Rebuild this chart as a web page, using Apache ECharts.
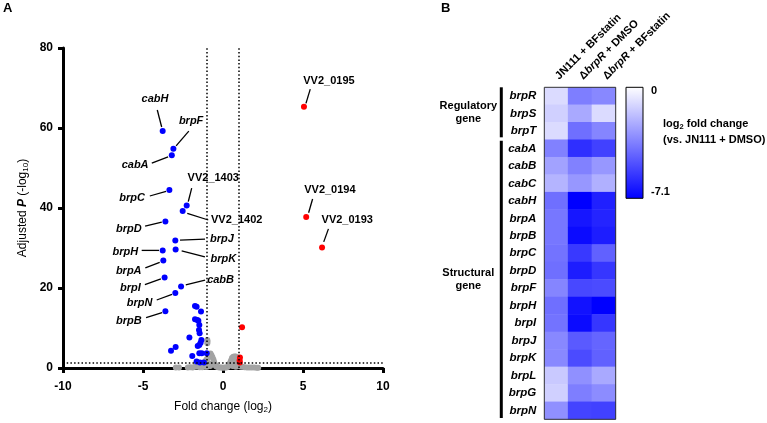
<!DOCTYPE html>
<html><head><meta charset="utf-8">
<script src="https://cdn.jsdelivr.net/npm/echarts/dist/echarts.min.js"></script>
<style>html,body{margin:0;padding:0;background:#fff}#c{width:767px;height:423px}</style>
</head><body><div id="c"></div>
<script>
// ---------- Panel A: volcano plot data ----------
const downGenes = ['cabH','brpF','cabA','brpC','VV2_1403','VV2_1402','brpD','brpJ','brpH','brpK','brpA','brpI','cabB','brpN','brpB'];
const downFC = [-3.77,-3.1,-3.2,-3.35,-2.27,-2.52,-3.6,-2.98,-3.77,-2.96,-3.73,-3.65,-2.62,-2.98,-3.6];
const downP  = [59.25,54.8,53.2,44.5,40.6,39.25,36.6,31.9,29.4,29.6,26.9,22.6,20.4,18.75,14.2];
const upGenes = ['VV2_0195','VV2_0194','VV2_0193'];
const upFC = [5.06,5.2,6.19];
const upP  = [65.3,37.75,30.1];
const otherDown = [[-1.75,15.5],[-1.65,15.3],[-1.375,14.1],[-1.75,12.2],[-1.54,11.8],[-1.48,10.75],[-1.5,9.5],[-1.46,8.7],[-2.1,7.6],[-1.35,7.0],[-1.48,5.75],[-1.58,5.5],[-2.96,5.25],[-3.25,4.3],[-1.33,3.7],[-1.48,3.7],[-1.02,3.7],[-1.92,3.0],[-1.65,1.6],[-1.44,1.4],[-1.19,1.4],[-1.4,6.3],[-1.6,12.0]];
const otherUp = [[1.19,10.2],[1.06,2.6],[1.04,1.9],[1.05,1.4]];
const notSig = [[-2.95,0.1],[-2.75,0.15],[-2.2,0.1],[-2.05,0.2],[-1.9,0.15],[-1.75,0.3],[-1.6,0.4],[-1.5,0.6],[-1.42,1.0],[-1.35,0.8],[-1.28,1.3],[-1.2,1.1],[-1.12,1.6],[-1.05,2.0],[-0.98,2.4],[-0.92,2.9],[-0.85,3.3],[-0.78,3.6],[-0.72,3.2],[-0.66,2.7],[-0.6,2.1],[-0.55,1.5],[-0.5,0.9],[-0.45,0.5],[-0.38,0.3],[-0.3,0.2],[-0.2,0.15],[-0.1,0.1],[0.0,0.05],[0.1,0.1],[0.2,0.15],[0.3,0.3],[0.38,0.7],[0.44,1.3],[0.5,1.9],[0.56,2.5],[0.64,2.8],[0.72,2.9],[0.8,2.9],[0.88,2.7],[0.95,2.3],[0.92,1.6],[0.85,1.0],[0.75,1.5],[0.65,1.2],[1.0,0.6],[1.1,0.4],[1.2,0.3],[1.35,0.2],[1.5,0.15],[1.65,0.1],[1.8,0.1],[1.95,0.1],[2.1,0.08],[2.2,0.05],[-0.98,6.2],[-0.97,6.6],[-0.98,7.0],[-1.45,0.2],[-1.0,0.3],[-0.8,0.5],[-0.7,1.0],[-0.9,1.2],[0.6,0.5],[0.8,0.3],[-1.3,0.2],[-1.1,0.3]];
const fcCutoffs = [-1, 1];
const pCutoff = 1.3;
const xTicks = [-10,-5,0,5,10];
const yTicks = [0,20,40,60,80];

// ---------- Panel B: heatmap data ----------
const heatRows = ['brpR','brpS','brpT','cabA','cabB','cabC','cabH','brpA','brpB','brpC','brpD','brpF','brpH','brpI','brpJ','brpK','brpL','brpG','brpN'];
const heatCols = ['JN111 + BFstatin','\u0394brpR + DMSO','\u0394brpR + BFstatin'];
const wtBFstatin  = [-1.0,-1.3,-1.0,-3.5,-2.6,-2.1,-4.0,-3.8,-3.8,-3.9,-4.0,-3.4,-4.0,-3.9,-3.3,-3.3,-1.5,-1.3,-3.1];
const mutDMSO     = [-3.6,-2.4,-4.0,-5.8,-3.5,-2.9,-7.1,-6.5,-6.8,-5.5,-6.3,-5.1,-6.6,-6.8,-4.6,-5.0,-3.1,-3.6,-5.2];
const mutBFstatin = [-3.3,-1.0,-3.4,-5.3,-2.9,-2.2,-6.2,-6.1,-6.3,-4.4,-5.6,-5.0,-7.1,-5.6,-4.3,-4.4,-2.4,-3.2,-5.3];
const groups = [{name:['Regulatory','gene'], from:0, to:2},{name:['Structural','gene'], from:3, to:18}];
const colorMin = -7.1, colorMax = 0;

// ---------- layout / style config ----------
const FF = '"Liberation Sans", Arial, Helvetica, sans-serif';
const BLUE = '#0000ff', RED = '#ff0000', GREY = '#a3a3a3';
// label text offset [dx,dy] and leader line [x1,y1,x2,y2], relative to point pixel
const labelLayout = {
  cabH:{t:[-7.7,-32.5], l:[-5.4,-21,-1,-4]},
  brpF:{t:[17.7,-27.7], l:[15.4,-17.7,2.7,-3]},
  cabA:{t:[-36.7,9.7], l:[-20,8,-3.7,1.7]},
  brpC:{t:[-37.3,8.3], l:[-19.6,6,-3.3,1.3]},
  VV2_1403:{t:[26.6,-28], l:[5,-17.4,1.6,-4]},
  VV2_1402:{t:[54,9], l:[4.6,2.3,25.6,9]},
  brpD:{t:[-36.6,7.3], l:[-20.3,4.6,-3.6,0.6]},
  brpJ:{t:[46.7,-1.3], l:[4.7,-0.3,29.7,-1.3]},
  brpH:{t:[-37.4,1.4], l:[-21,0,-3.7,0]},
  brpK:{t:[47.6,9.3], l:[6,1.3,29.3,7.3]},
  brpA:{t:[-34.6,10.4], l:[-18,7.4,-3.6,2]},
  brpI:{t:[-34.2,10], l:[-19.7,7,-3.7,1.3]},
  cabB:{t:[39.5,-6.3], l:[4.7,-1.6,24,-6.3]},
  brpN:{t:[-35.8,10.3], l:[-18.6,7,-3.3,1.3]},
  brpB:{t:[-36.6,9.4], l:[-19.3,6.4,-3.3,1.4]},
  VV2_0195:{t:[25,-25.7], l:[6.3,-17.7,2,-3.4]},
  VV2_0194:{t:[23.7,-27], l:[6.4,-18,2.4,-4.3]},
  VV2_0193:{t:[25.2,-27.4], l:[6.4,-18.7,1.7,-5.7]}
};

const labelNames = downGenes.concat(upGenes);
const labelData = downFC.map((x,i)=>[x, downP[i]]).concat(upFC.map((x,i)=>[x, upP[i]]));
const heatData = [];
[wtBFstatin, mutDMSO, mutBFstatin].forEach((arr, c) => arr.forEach((v, r) => heatData.push([c, r, v])));

const chart = echarts.init(document.getElementById('c'), null, {renderer:'canvas', width:767, height:423});

const axisBase = {
  axisLine:{show:true, onZero:false, lineStyle:{color:'#000', width:3}},
  axisTick:{show:true, inside:false, length:5, lineStyle:{color:'#000', width:3}},
  splitLine:{show:false},
  axisLabel:{color:'#000', fontSize:12, fontWeight:'bold', fontFamily:FF}
};
const colRich = {b:{fontSize:11, fontWeight:'bold', fill:'#000', color:'#000', fontFamily:FF}, bi:{fontSize:11, fontWeight:'bold', fontStyle:'italic', fill:'#000', color:'#000', fontFamily:FF}};
function colLabel(v){ return v.charAt(0)==='\u0394' ? '{b|\u0394}{bi|brpR}{b|'+v.slice(5)+'}' : '{b|'+v+'}'; }

chart.setOption({
  animation:false,
  backgroundColor:'#fff',
  textStyle:{fontFamily:FF},
  grid:[
    {left:63, top:48, width:320, height:320, outerBoundsMode:'none', containLabel:false},
    {left:544.3, top:87.3, width:71.4, height:332, outerBoundsMode:'none', containLabel:false}
  ],
  xAxis:[
    Object.assign({}, axisBase, {
      gridIndex:0, type:'value', min:xTicks[0], max:xTicks[xTicks.length-1], interval:5,
      axisLabel:Object.assign({}, axisBase.axisLabel, {margin:13}),
      name:'{n|Fold change (log}{s|2}{n|)}', nameLocation:'middle', nameGap:31,
      nameTextStyle:{rich:{n:{fontSize:12, color:'#000', fontFamily:FF}, s:{fontSize:8, color:'#000', fontFamily:FF, padding:[7,0,0,0]}}}
    }),
    {
      gridIndex:1, type:'category', position:'top', data:heatCols,
      axisLine:{show:false}, axisTick:{show:false}, splitLine:{show:false},
      axisLabel:{show:false}
    }
  ],
  yAxis:[
    Object.assign({}, axisBase, {
      gridIndex:0, type:'value', min:yTicks[0], max:yTicks[yTicks.length-1], interval:20,
      axisLabel:Object.assign({}, axisBase.axisLabel, {margin:10}),
      name:'{n|Adjusted }{i|P}{n| (-log}{s|10}{n|)}', nameLocation:'middle', nameGap:33, nameRotate:90,
      nameTextStyle:{rich:{n:{fontSize:12, color:'#000', fontFamily:FF}, i:{fontSize:12, color:'#000', fontStyle:'italic', fontWeight:'bold', fontFamily:FF}, s:{fontSize:8, color:'#000', fontFamily:FF, padding:[7,0,0,0]}}}
    }),
    {
      gridIndex:1, type:'category', inverse:true, data:heatRows,
      axisLine:{show:false}, axisTick:{show:false}, splitLine:{show:false},
      axisLabel:{interval:0, margin:8, color:'#000', fontSize:11.5, fontWeight:'bold', fontStyle:'italic', fontFamily:FF}
    }
  ],
  visualMap:{show:false, type:'continuous', seriesIndex:4, min:colorMin, max:colorMax, inRange:{color:[BLUE,'#ffffff']}},
  series:[
    {type:'scatter', xAxisIndex:0, yAxisIndex:0, data:notSig, symbolSize:6, itemStyle:{color:GREY, opacity:1}, silent:true, z:2,
     markLine:{silent:true, symbol:'none', label:{show:false}, animation:false,
       lineStyle:{color:'#000', type:[1.5,2.2], width:1.5},
       data:[{xAxis:fcCutoffs[0]},{xAxis:fcCutoffs[1]},{yAxis:pCutoff}]}},
    {type:'scatter', xAxisIndex:0, yAxisIndex:0, data:otherDown.concat(downFC.map((x,i)=>[x,downP[i]])), symbolSize:6, itemStyle:{color:BLUE, opacity:1}, silent:true, z:3},
    {type:'scatter', xAxisIndex:0, yAxisIndex:0, data:otherUp.concat(upFC.map((x,i)=>[x,upP[i]])), symbolSize:6, itemStyle:{color:RED, opacity:1}, silent:true, z:3},
    {type:'custom', xAxisIndex:0, yAxisIndex:0, data:labelData, clip:false, silent:true, z:4,
     renderItem:function(params, api){
       const name = labelNames[params.dataIndex];
       const p = api.coord([api.value(0), api.value(1)]);
       const L = labelLayout[name];
       const italic = name.indexOf('VV2')!==0;
       return {type:'group', children:[
         {type:'line', shape:{x1:p[0]+L.l[0], y1:p[1]+L.l[1], x2:p[0]+L.l[2], y2:p[1]+L.l[3]}, style:{stroke:'#000', lineWidth:1.3}},
         {type:'text', x:p[0]+L.t[0], y:p[1]+L.t[1], style:{text:name, fill:'#000', fontSize:11, fontWeight:'bold', fontStyle: italic?'italic':'normal', fontFamily:FF, align:'center', verticalAlign:'middle'}}
       ]};
     }},
    {type:'heatmap', xAxisIndex:1, yAxisIndex:1, data:heatData, silent:true, itemStyle:{borderWidth:0}, emphasis:{disabled:true}}
  ]
});

// ----- decorations computed from the heatmap axes -----
const c0 = chart.convertToPixel({gridIndex:1}, [0, 0]);
const c1 = chart.convertToPixel({gridIndex:1}, [heatCols.length-1, heatRows.length-1]);
const rowH = (c1[1]-c0[1])/(heatRows.length-1);
const colW = (c1[0]-c0[0])/(heatCols.length-1);
const hmTop = c0[1]-rowH/2, hmBottom = c1[1]+rowH/2, hmLeft = c0[0]-colW/2, hmRight = c1[0]+colW/2;
const bracketX = hmLeft - 43;
const groupTextX = hmLeft - 76;

const graphics = [
  {type:'text', left:3, top:2, style:{text:'A', fontSize:13, fontWeight:'bold', fill:'#000', fontFamily:FF}},
  {type:'text', left:441, top:2, style:{text:'B', fontSize:13, fontWeight:'bold', fill:'#000', fontFamily:FF}},
  {type:'rect', shape:{x:hmLeft, y:hmTop, width:hmRight-hmLeft, height:hmBottom-hmTop}, style:{fill:'none', stroke:'#333', lineWidth:1}, z:100},
  {type:'rect', shape:{x:626, y:hmTop, width:17, height:111}, z:100,
   style:{fill:new echarts.graphic.LinearGradient(0,0,0,1,[{offset:0,color:'#ffffff'},{offset:1,color:BLUE}]), stroke:'#000', lineWidth:1}},
  {type:'text', x:651, y:hmTop+4, style:{text:'0', fontSize:11, fontWeight:'bold', fill:'#000', fontFamily:FF, verticalAlign:'middle'}},
  {type:'text', x:651, y:hmTop+105, style:{text:'-7.1', fontSize:11, fontWeight:'bold', fill:'#000', fontFamily:FF, verticalAlign:'middle'}},
  {type:'text', x:663, y:hmTop+37, style:{text:'{n|log}{s|2}{n| fold change}', verticalAlign:'middle', fontFamily:FF,
    rich:{n:{fontSize:11, fontWeight:'bold', fill:'#000', fontFamily:FF}, s:{fontSize:7.5, fontWeight:'bold', fill:'#000', fontFamily:FF, padding:[6,0,0,0]}}}},
  {type:'text', x:663, y:hmTop+53, style:{text:'(vs. JN111 + DMSO)', fontSize:11, fontWeight:'bold', fill:'#000', fontFamily:FF, verticalAlign:'middle'}}
];
// rotated column headers anchored at each heatmap column centre
heatCols.forEach(function(v, i){
  const cx = chart.convertToPixel({gridIndex:1}, [i, 0])[0];
  graphics.push({type:'text', x:cx+1, y:hmTop-9.5, rotation:Math.PI/4,
    style:{text:colLabel(v), rich:colRich, align:'left', verticalAlign:'middle', fontFamily:FF}});
});
groups.forEach(function(g, gi){
  const y1 = hmTop + g.from*rowH + (gi===0 ? 0 : 1);
  const y2 = hmTop + (g.to+1)*rowH - (gi===0 ? 2.4 : 1.3);
  graphics.push({type:'rect', shape:{x:bracketX-1.5, y:y1, width:3, height:y2-y1}, style:{fill:'#000'}});
  graphics.push({type:'text', x:groupTextX, y:(y1+y2)/2, style:{text:g.name.join('\n'), fontSize:11, fontWeight:'bold', fill:'#000', fontFamily:FF, align:'center', verticalAlign:'middle', lineHeight:13}});
});
chart.setOption({graphic:graphics});
</script></body></html>
